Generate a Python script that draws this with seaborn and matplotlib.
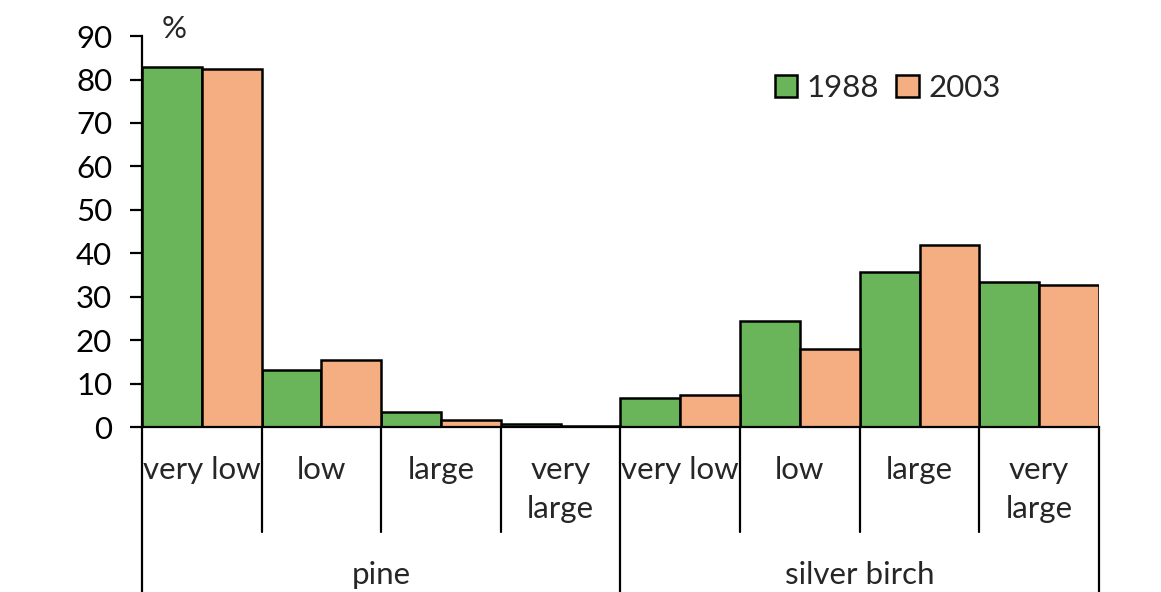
import pandas as pd
import matplotlib
matplotlib.use("Agg")
import matplotlib.pyplot as plt
import seaborn as sns

# Data
species = ["pine", "silver birch"]
classes = ["very low", "low", "large", "very\nlarge"]
years = ["1988", "2003"]
values_1988 = [82.9, 13.1, 3.4, 0.6, 6.7, 24.4, 35.7, 33.4]
values_2003 = [82.5, 15.4, 1.6, 0.2, 7.4, 18.0, 41.9, 32.7]

GREEN = "#6AB55A"
ORANGE = "#F5AD82"
FS = 22.5

keys = [f"{s}|{c}" for s in species for c in classes]
df = pd.DataFrame({
    "cat": keys * 2,
    "year": [years[0]] * len(keys) + [years[1]] * len(keys),
    "value": values_1988 + values_2003,
})

sns.set_theme(style="white")
plt.rcParams["font.family"] = ["Lato", "DejaVu Sans"]

fig = plt.figure(figsize=(11.61, 5.92), dpi=100)
ax = fig.add_axes([0.1223, 0.2787, 0.8243, 0.6603])

sns.barplot(data=df, x="cat", y="value", hue="year", order=keys,
            palette=[GREEN, ORANGE], saturation=1, width=1.0, gap=0,
            edgecolor="black", linewidth=1.8, ax=ax, legend=True)

ax.set_xlim(-0.5, len(keys) - 0.5)
ax.set_ylim(0, 90)
ax.set_yticks(range(0, 91, 10))
ax.tick_params(axis="y", labelsize=FS, length=8.5, width=1.6, direction="out",
               left=True, colors="black", pad=13)
ax.set_xticks([])
ax.set_xlabel("")
ax.set_ylabel("")
for side in ["top", "right"]:
    ax.spines[side].set_visible(False)
for side in ["left", "bottom"]:
    ax.spines[side].set_color("black")
    ax.spines[side].set_linewidth(1.6)

ax.text(0.034, 0.995, "%", transform=ax.transAxes, fontsize=FS,
        ha="center", va="baseline")

# hierarchical category axis below the bars
trans = ax.get_xaxis_transform()
inner_bottom = -0.2685
outer_bottom = -0.43
for i in range(len(keys) + 1):
    xpos = i - 0.5
    y_end = outer_bottom if i % len(classes) == 0 else inner_bottom
    ax.plot([xpos, xpos], [0, y_end], transform=trans, color="black",
            lw=1.6, clip_on=False)
for i, k in enumerate(keys):
    label = k.split("|")[1]
    ax.text(i, -0.075, label, transform=trans, ha="center", va="top",
            fontsize=FS, linespacing=1.45)
for j, s in enumerate(species):
    center = j * len(classes) + (len(classes) - 1) / 2
    ax.text(center, -0.378, s, transform=trans, ha="center", va="center",
            fontsize=FS)

ax.legend(loc="center", bbox_to_anchor=(0.779, 0.868), ncol=2, frameon=False,
          fontsize=FS, handlelength=0.72, handleheight=0.72, handletextpad=0.3,
          columnspacing=0.55, borderaxespad=0)

fig.savefig("out.png", dpi=100)
